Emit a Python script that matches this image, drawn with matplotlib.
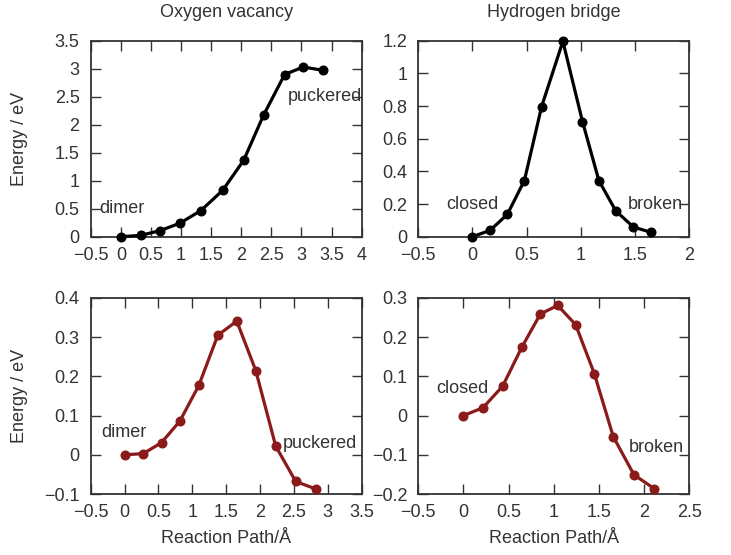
import matplotlib
matplotlib.use("Agg")
import matplotlib.pyplot as plt

plt.rcParams["font.family"] = ["Liberation Sans", "DejaVu Sans"]

# ----------------------------
# DATA
# ----------------------------
ov_top_x      = [0, 0.33, 0.65, 0.98, 1.33, 1.69, 2.04, 2.37, 2.72, 3.03, 3.36]
ov_top_y      = [0, 0.024, 0.108, 0.24, 0.467, 0.826, 1.364, 2.17, 2.896, 3.03, 2.97]
hb_top_x      = [0, 0.163, 0.322, 0.479, 0.638, 0.834, 1.015, 1.166, 1.322, 1.485, 1.647]
hb_top_y      = [0, 0.039, 0.137, 0.344, 0.797, 1.196, 0.705, 0.344, 0.158, 0.059, 0.027]
ov_bot_x      = [0, 0.275, 0.545, 0.816, 1.096, 1.376, 1.656, 1.936, 2.231, 2.526, 2.82]
ov_bot_y      = [0, 0.003, 0.031, 0.086, 0.177, 0.305, 0.341, 0.215, 0.022, -0.068, -0.087]
hb_bot_x      = [0, 0.216, 0.434, 0.648, 0.851, 1.043, 1.242, 1.449, 1.659, 1.888, 2.11]
hb_bot_y      = [0, 0.020, 0.075, 0.175, 0.259, 0.281, 0.232, 0.107, -0.054, -0.151, -0.186]

panels = [
    # x, y, color, xlim, xticks, ylim, yticks, labels
    (ov_top_x, ov_top_y, "black", (-0.5, 4), [-0.5, 0, 0.5, 1, 1.5, 2, 2.5, 3, 3.5, 4],
     (0, 3.5), [0, 0.5, 1, 1.5, 2, 2.5, 3, 3.5],
     [("dimer", -0.35, 0.5), ("puckered", 2.77, 2.5)]),
    (hb_top_x, hb_top_y, "black", (-0.5, 2), [-0.5, 0, 0.5, 1, 1.5, 2],
     (0, 1.2), [0, 0.2, 0.4, 0.6, 0.8, 1, 1.2],
     [("closed", -0.24, 0.2), ("broken", 1.43, 0.2)]),
    (ov_bot_x, ov_bot_y, "#8b1a1a", (-0.5, 3.5), [-0.5, 0, 0.5, 1, 1.5, 2, 2.5, 3, 3.5],
     (-0.1, 0.4), [-0.1, 0, 0.1, 0.2, 0.3, 0.4],
     [("dimer", -0.34, 0.057), ("puckered", 2.34, 0.03)]),
    (hb_bot_x, hb_bot_y, "#8b1a1a", (-0.5, 2.5), [-0.5, 0, 0.5, 1, 1.5, 2, 2.5],
     (-0.2, 0.3), [-0.2, -0.1, 0, 0.1, 0.2, 0.3],
     [("closed", -0.30, 0.07), ("broken", 1.83, -0.081)]),
]

positions = [
    [0.1241, 0.5735, 0.3707, 0.3532],
    [0.5722, 0.5735, 0.3707, 0.3532],
    [0.1241, 0.1099, 0.3707, 0.3532],
    [0.5722, 0.1099, 0.3707, 0.3532],
]

titles = ["Oxygen vacancy", "Hydrogen bridge", None, None]

fs  = 13
ink = "#333333"

fig = plt.figure(figsize=(7.31, 5.55), dpi=100)

def fmt(v):
    s = f"{v:g}"
    return s.replace("-", "\u2212")

for i, (pnl, pos) in enumerate(zip(panels, positions)):
    x, y, col, xlim, xticks, ylim, yticks, labels = pnl
    ax = fig.add_axes(pos)
    ax.plot(x, y, color=col, linewidth=2.3, marker="o", markersize=6.2, clip_on=False, zorder=3)
    ax.set_xlim(*xlim)
    ax.set_ylim(*ylim)
    ax.set_xticks(xticks)
    ax.set_yticks(yticks)
    ax.set_xticklabels([fmt(v) for v in xticks])
    ax.set_yticklabels([fmt(v) for v in yticks])
    ax.tick_params(direction="in", length=7, width=1.0, top=True, right=True,
                   labelsize=fs, labelcolor=ink, color=ink)
    ax.tick_params(axis="x", pad=7.5)
    ax.tick_params(axis="y", pad=8)
    for sp in ax.spines.values():
        sp.set_linewidth(1.3)
        sp.set_color(ink)
    for txt, tx, ty in labels:
        ax.text(tx, ty, txt, fontsize=fs, color=ink, va="center", ha="left", clip_on=True)
    if titles[i]:
        ax.set_title(titles[i], fontsize=fs, color=ink, pad=17)
    if i % 2 == 0:
        ax.set_ylabel("Energy / eV", fontsize=fs, color=ink)
        ax.yaxis.set_label_coords(-0.23, 0.5)
    if i >= 2:
        ax.set_xlabel("Reaction Path/Å", fontsize=fs, color=ink, labelpad=6)

fig.savefig("out.png", dpi=100)
